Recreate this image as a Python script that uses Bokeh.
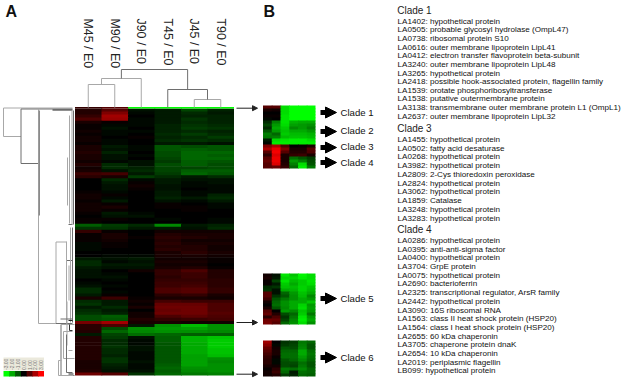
from bokeh.plotting import figure
from bokeh.models import Range1d, LinearColorMapper, ColumnDataSource, Arrow, NormalHead
from bokeh.transform import transform
from bokeh.embed import file_html
from bokeh.resources import INLINE

conditions = ["M45 / E0", "M90 / E0", "J90 / E0", "T45 / E0", "J45 / E0", "T90 / E0"]

heat_a_edge = [0.6, 1.0, -3, -3, -3, -3]
heat_a = [
 [.4,1.0,-.2,-.3,-.8,-.4],[.4,1.5,-.1,-.3,-.5,-.3],[.6,1.9,0,-.3,-.4,-.4],[.9,1.8,-.1,-.3,-.6,-.4],
 [.3,.1,-.1,-.3,-.5,-.4],[.1,-.1,-.1,-.4,-.6,-.5],[.1,-.2,0,-.4,-.7,-.6],[.2,-.1,-.1,-.4,-.5,-.4],
 [.1,-.1,0,-.5,-.7,-.5],[.2,0,.1,-.4,-.5,-.7],[.2,-.1,0,-.5,-.6,-.5],[.1,-.1,0,-.3,-.3,-.2],
 [.3,-.3,-.1,-1.0,-.9,-1.0],[.3,-.2,-.1,-1.0,-1.1,-1.0],[.4,-.4,0,-.9,-1.2,-1.2],[.3,-.2,-.1,-.9,-1.2,-1.1],
 [.3,-.2,0,-.8,-1.2,-1.2],[.2,-.1,-.2,-.7,-1.1,-1.0],[.4,-.5,-.2,-.9,-1.1,-.9],[.2,-.5,-.4,-.8,-.8,-.9],
 [.3,-.2,-.5,-.8,-1.1,-1.1],[.7,.8,-.3,-.7,-1.2,-1.0],[.5,.3,-.7,-.5,-.3,-.5],[0,-.5,-.1,-.3,-.2,-.2],
 [0,-.3,.1,-.3,-.1,-.2],[0,-.2,.2,-.2,-.1,-.1],[0,-.2,.1,-.2,0,-.1],[.1,-.1,0,-.3,-.1,-.1],
 [.2,.1,0,-.3,-.1,-.4],[.2,-.1,0,-.4,-.3,-.5],[.1,-.3,0,-.2,-.1,-.3],[.2,.1,0,.1,0,-.1],
 [.2,.3,0,.1,.1,-.1],[.2,.1,0,0,.1,0],[.1,-.3,-.1,0,0,0],[0,-.2,-.2,0,0,0],
 [.1,.1,0,-.1,0,-.1],[.1,0,0,0,0,-.1],[-1.1,-.7,-.5,-1.6,-.3,-.4],[-.6,-.6,-.3,-.3,-.2,-.5],
 [.6,.1,0,.2,.2,.2],[.1,.3,0,.4,.3,.3],
 [.1,.3,.1,.5,.4,.3],[.1,.2,0,.4,.2,.2],[-.1,.1,0,.5,.3,.3],[-.1,.1,0,.4,.4,.2],
 [-.1,0,0,.5,.4,.2],[0,0,0,.3,.5,.3],[0,-.1,-.1,.3,.3,.2],[-.3,-.2,-.3,.2,.2,.1],
 [-.5,-.1,-.2,.3,.3,.1],[-.5,-.3,-.3,.2,.2,0],[-.3,-.2,-.2,.3,.4,.1],[-.2,0,.2,.6,.9,.4],
 [-.2,-.1,0,.6,.7,.4],[-.2,-.2,0,.5,.7,.4],[0,-.1,0,.6,.6,.5],[-.1,0,0,.7,.7,.5],
 [-.2,-.1,0,.7,.8,.5],[-.5,0,0,.9,1.0,.6],[-.5,-.1,0,.9,1.0,.6],
 [-.3,.1,0,.5,.6,.3],[.3,.7,.1,.3,.3,.2],[-.5,-.3,.2,.8,.7,.7],
 [-.6,-.3,.1,1.2,1.2,.9],[-.3,-.5,.3,1.3,1.3,.9],[-.5,-.3,0,1.2,1.3,.9],[-.6,-.4,.2,1.3,1.3,1.0],
 [-.9,-1.1,.2,.9,1.1,.9],[-.9,-1.0,.4,.6,.7,.8],[1.4,1.9,.3,.3,.2,.2],[.5,.9,-.3,-1.7,-2.2,-1.7],
 [.5,-.9,-1.7,-1.8,-1.9,-1.7],[.4,-1.2,-1.6,-1.7,-1.7,-1.6],[-.3,-.8,-1.3,-1.2,-1.1,-1.1],[.4,-.7,-.2,-1.1,-2.1,-2.3],
 [.4,-.5,-.1,-1.1,-2.1,-2.4],[.4,-.5,-.1,-1.0,-2.0,-2.4],[.4,-.6,-.2,-1.0,-2.0,-2.4],[.4,-.5,-.2,-1.0,-2.0,-2.3],
 [.4,-.5,-.1,-1.0,-2.0,-2.3],[.4,-.4,-.1,-1.0,-1.9,-2.2],[.4,-.6,-.1,-1.0,-1.9,-1.7],[.3,-.6,-.2,-1.0,-1.9,-1.6],
 [.3,-.4,-.1,-1.1,-1.9,-1.7],[.3,-.3,-.1,-1.2,-1.7,-1.7],[.4,-.2,-.2,-1.1,-1.6,-1.7],[1.3,1.0,-.6,-1.2,-1.4,-1.5],
]

heat_b1 = [
 [1.0,1.0,-2.6,-3,-3,-3],[.3,.2,-2.6,-3,-3,-3],[0,0,-2.6,-3,-3,-3],[.1,.1,-2.7,-3,-3,-3],
 [-.1,0,-2.7,-3,-3,-3],[-.5,-1.5,-2.7,-2.1,-2,-2],[-.8,-1.8,-2.6,-1.9,-1.8,-1.7],[-.5,-2,-2.4,-1.6,-1.8,-1.5],
 [-1.0,-1.8,-2.3,-2,-2,-1.8],[-1.5,-1.2,-2.4,-2.2,-2.2,-2.1],[-1.4,-1.5,-2.2,-2.3,-2.3,-2.2],[-.3,-2.6,-2.7,-2.8,-2.8,-2.6],
 [-.1,-2.8,-2.8,-2.8,-2.8,-2.8],[1.5,2.0,.9,0,.1,.3],[2.0,2.8,1.5,.3,.3,1.0],[1.0,2.9,1.0,.4,.4,.9],
 [.5,2.6,.3,.6,.7,.3],[1.0,2.8,.3,-1.3,-1,-.7],[1.2,2.8,.3,-1.8,-1.5,-.9],[1.0,2.6,.4,-1.5,-2.6,-1],
 [1.0,1.2,.6,-1.2,-2.8,-1.4],
]
heat_b2 = [
 [.2,-.2,-2.7,-2.3,-2.9,-2.6],[.3,-.3,-2.5,-2.5,-2.8,-2.6],[.1,-.8,-2.7,-2.2,-2.4,-2.7],[.1,-.3,-2.4,-2,-2.4,-2.6],
 [-.5,-.6,-2.3,-2.2,-2.5,-2.3],[-.6,-.2,-2,-2.1,-2.5,-2.2],[1,-.2,-1.2,-1.8,-2.3,-2],[1,-.6,-1,-1.7,-2.2,-1.6],
 [.7,-1,-1.4,-1.7,-2,-1.8],[.2,-1.2,-1.7,-2,-2,-2.3],[0,-1.3,-1.7,-2,-2.5,-1.8],[.3,-1,-1.6,-2,-2.6,-1.9],
 [1,0,-1.8,-1.6,-2.3,-1.8],[1.2,.4,-.9,-1.2,-2.4,-1.4],[.5,.9,-.6,-1.4,-2.7,-1.8],[1.3,1.2,-.8,-1.6,-2.8,-2],
 [1.4,1,-1.2,-1.7,-2.6,-1.7],
]
heat_b3 = [
 [1.9,0,-.6,-.7,-1.4,-1.2],[1.6,-.1,-.7,-.8,-1.5,-1],[1.2,.2,-1.0,-.9,-1.6,-1.0],[1,.3,-1.2,-1.2,-2,-1.3],
 [.8,.3,-1.3,-1.3,-2,-1.4],[.6,.1,-1.3,-1.3,-1.8,-1.3],[.5,-.1,-1,-1.2,-1.6,-1.2],[.5,-.1,-.9,-.9,-1.3,-1],
 [.3,.2,-.9,-.8,-1.4,-1],[.1,.5,-1.4,-1.3,-1.6,-1.2],[.2,.7,-1.2,-.3,-1.3,-1.2],[.2,.4,-.7,-.4,-1.2,-1.1],
]

legend_values = [-3, -2, -1, 0, 1, 2, 3]
legend_labels = ["-3.00", "-2.00", "-1.00", "0.00", "1.00", "2.00", "3.00"]

clade_labels = ["Clade 1", "Clade 2", "Clade 3", "Clade 4", "Clade 5", "Clade 6"]
clade_arrow_y = [112, 131, 147, 162, 298, 357]
clade_label_y = [112, 130, 145.5, 162, 298, 357]

clade1_title = "Clade 1"
clade1_genes = [
 "LA1402: hypothetical protein", "LA0505: probable glycosyl hydrolase (OmpL47)",
 "LA0738: ribosomal protein S10", "LA0616: outer membrane lipoprotein LipL41",
 "LA0412: electron transfer flavoprotein beta-subunit", "LA3240: outer membrane lipoprotein LipL48",
 "LA3265: hypothetical protein", "LA2418: possible hook-associated protein, flagellin family",
 "LA1539: orotate phosphoribosyltransferase", "LA1538: putative outermembrane protein",
 "LA3138: transmembrane outer membrane protein L1 (OmpL1)", "LA2637: outer membrane lipoprotein LipL32",
]
clade3_title = "Clade 3"
clade3_genes = [
 "LA1455: hypothetical protein", "LA0502: fatty acid desaturase", "LA0268: hypothetical protein",
 "LA3982: hypothetical protein", "LA2809: 2-Cys thioredoxin peroxidase", "LA2824: hypothetical protein",
 "LA3062: hypothetical protein", "LA1859: Catalase", "LA3248: hypothetical protein", "LA3283: hypothetical protein",
]
clade4_title = "Clade 4"
clade4_genes = [
 "LA0286: hypothetical protein", "LA0395: anti-anti-sigma factor", "LA0400: hypothetical protein",
 "LA3704: GrpE protein", "LA0075: hypothetical protein", "LA2690: bacterioferrin",
 "LA2325: transcriptional regulator, ArsR family", "LA2442: hypothetical protein", "LA3090: 16S ribosomal RNA",
 "LA1563: class II heat shock protein (HSP20)", "LA1564: class I heat shock protein (HSP20)",
 "LA2655: 60 kDa chaperonin", "LA3705: chaperone protein dnaK", "LA2654: 10 kDa chaperonin",
 "LA2019: periplasmic flagellin", "LB099: hypothetical protein",
]

# ---- layout (reference pixels) ----
SANS = "Liberation Sans"
GREY, LGREY = "#6e6e6e", "#a8a8a8"

palette = []
for i in range(61):
    t = (i - 30) / 30
    palette.append("#%02x%02x%02x" % ((int(255 * t), 0, 0) if t > 0 else (0, int(255 * -t), 0)))
mapper = LinearColorMapper(palette=palette, low=-3, high=3)

p = figure(width=633, height=379, x_range=Range1d(0, 633), y_range=Range1d(379, 0),
           output_backend="svg", toolbar_location=None, min_border=0,
           background_fill_color="white", border_fill_color="white", outline_line_color=None)
p.axis.visible = False
p.grid.visible = False


def heat(rows, x0, x1, y0, y1):
    n, m = len(rows), len(rows[0])
    cw, rh = (x1 - x0) / m, (y1 - y0) / n
    d = dict(l=[], r=[], t=[], b=[], v=[])
    overlap = 0.7  # later cells cover this, closing the hairline seams
    for i, row in enumerate(rows):
        for j, v in enumerate(row):
            d["l"].append(x0 + j * cw)
            d["r"].append(x0 + (j + 1) * cw + (overlap if j < m - 1 else 0))
            d["t"].append(y0 + i * rh)
            d["b"].append(y0 + (i + 1) * rh + (overlap if i < n - 1 else 0))
            d["v"].append(v)
    p.quad(left="l", right="r", top="t", bottom="b", source=ColumnDataSource(d),
           fill_color=transform("v", mapper), line_color=None)


AX0, AX1 = 74.5, 233.5
heat(heat_a, AX0, AX1, 108, 375)
heat([heat_a_edge], AX0, AX1, 106.5, 108)
heat(heat_b1, 262.5, 315, 105, 168)
heat(heat_b2, 262.5, 315, 273, 324)
heat(heat_b3, 262.5, 315, 340, 376)

# column labels
cw = (AX1 - AX0) / 6
p.text(x=[AX0 + (i + .5) * cw for i in range(6)], y=[18] * 6, text=conditions,
       angle=-1.5708, text_font_size="12.4px", text_font={"value": SANS}, text_color="#222222",
       text_align="left", text_baseline="middle")

# top dendrogram
cx = [AX0 + (i + .5) * cw for i in range(6)]
h_mm, h_mj, h_jt, h_tt, h_root = 84, 78, 99, 89, 69
n_mm = (cx[0] + cx[1]) / 2
n_mj = (n_mm + cx[2]) / 2
n_jt = (cx[4] + cx[5]) / 2
n_tt = (cx[3] + n_jt) / 2
top_segments = [
    ([cx[0], cx[0], cx[1], cx[1]], [107, h_mm, h_mm, 107], LGREY),
    ([n_mm, n_mm, cx[2], cx[2]], [h_mm, h_mj, h_mj, 107], LGREY),
    ([cx[4], cx[4], cx[5], cx[5]], [107, h_jt, h_jt, 107], LGREY),
    ([cx[3], cx[3], n_jt, n_jt], [107, h_tt, h_tt, h_jt], GREY),
    ([n_mj, n_mj, n_tt, n_tt], [h_mj, h_root, h_root, h_tt], GREY),
]
for xs, ys, c in top_segments:
    p.line(xs, ys, line_color=c, line_width=1)

# left dendrogram (x, y pairs in pixels)
left_segments = [
    ([3, 3, 20.5], [107.5, 136, 136], LGREY),
    ([3, 72], [107.5, 107.5], LGREY),
    ([20.5, 20.5, 38], [108.5, 163, 163], GREY),
    ([20.5, 72], [108.5, 108.5], GREY),
    ([38, 38, 55.5], [108.5, 323, 323], LGREY),
    ([38.8, 38.8], [110, 215], GREY),
    ([52, 72], [109.5, 109.5], "#222222"),
    ([55.5, 55.5, 66], [323, 241.5, 241.5], LGREY),
    ([55.5, 72], [323, 323], GREY),
    ([66, 66], [241, 323], LGREY),
    ([66.5, 72], [260, 260], GREY),
    ([68, 72], [224, 224], GREY),
    ([66.5, 66.5], [345, 301], LGREY),
    ([71.5, 71.5], [110, 224], LGREY),
    ([73, 73], [110, 224], GREY),
    ([67, 67], [205, 157], LGREY),
    ([69, 69], [115, 223], LGREY),
    ([70, 70], [227, 322], LGREY),
    ([72, 72], [227, 322], GREY),
    ([68.5, 68.5], [265, 300], LGREY),
    ([60.5, 60.5, 74], [324, 375, 375], GREY),
    ([60.5, 74], [324, 324], LGREY),
    ([58, 58, 73], [360, 375, 375], LGREY),
    ([58, 61], [360, 360], LGREY),
    ([63, 63, 74], [331, 358, 358], LGREY),
    ([63, 72], [331, 331], LGREY),
    ([66, 66, 72], [334, 372, 372], GREY),
    ([69, 69, 72], [324, 330, 330], "#333333"),
    ([68, 72], [350, 350], LGREY),
    ([68, 72], [320, 320], "#222222"),
    ([60, 72], [318.5, 318.5], GREY),
    ([68, 73], [373.5, 373.5], "#222222"),
]
for xs, ys, c in left_segments:
    p.line(xs, ys, line_color=c, line_width=1)

# small pointers panel A -> B
for y in [107.7, 322, 373.7]:
    p.add_layout(Arrow(end=NormalHead(size=5, fill_color="#222222", line_color="#222222"),
                       x_start=236, x_end=257, y_start=y, y_end=y,
                       line_color="#222222", line_width=1))

# clade arrows and labels
for y in clade_arrow_y:
    p.add_layout(Arrow(end=NormalHead(size=11, fill_color="black", line_color="black", line_width=1),
                       x_start=320, x_end=336, y_start=y, y_end=y,
                       line_color="black", line_width=5))
p.text(x=[340] * 6, y=clade_label_y, text=clade_labels, text_font_size="9.6px",
       text_font={"value": SANS}, text_color="#111111", text_baseline="middle")

# gene list
LIST_X = 397
def gene_block(title, title_y, genes, first_y, step):
    p.text(x=[LIST_X - .3], y=[title_y], text=[title], text_font_size="10px",
           text_font={"value": SANS}, text_color="#222222", text_baseline="middle")
    p.text(x=[LIST_X] * len(genes), y=[first_y + i * step for i in range(len(genes))], text=genes,
           text_font_size="8.1px", text_font={"value": SANS}, text_color="#111111", text_baseline="middle")

gene_block(clade1_title, 10, clade1_genes, 20.7, 8.64)
gene_block(clade3_title, 127.7, clade3_genes, 139, 8.74)
gene_block(clade4_title, 229.3, clade4_genes, 240, 8.69)

# panel letters
p.text(x=[5, 263], y=[11, 11], text=["A", "B"], text_font_size="16px", text_font_style="bold",
       text_font={"value": SANS}, text_color="#111111", text_baseline="middle")

# colour key
LX0, LX1 = 3, 43.5
lw = (LX1 - LX0) / 7
p.quad(left=[LX0], right=[LX1], top=[357], bottom=[370], fill_color="#ebe9dc", line_color=None)
heat([legend_values], LX0, LX1, 370.5, 376)
p.text(x=[LX0 + (i + .5) * lw for i in range(7)], y=[369.5] * 7, text=legend_labels, angle=1.5708,
       text_font_size="5px", text_font={"value": SANS}, text_color="#777777",
       text_align="left", text_baseline="middle")

open("out.html", "w").write(file_html(p, INLINE))
